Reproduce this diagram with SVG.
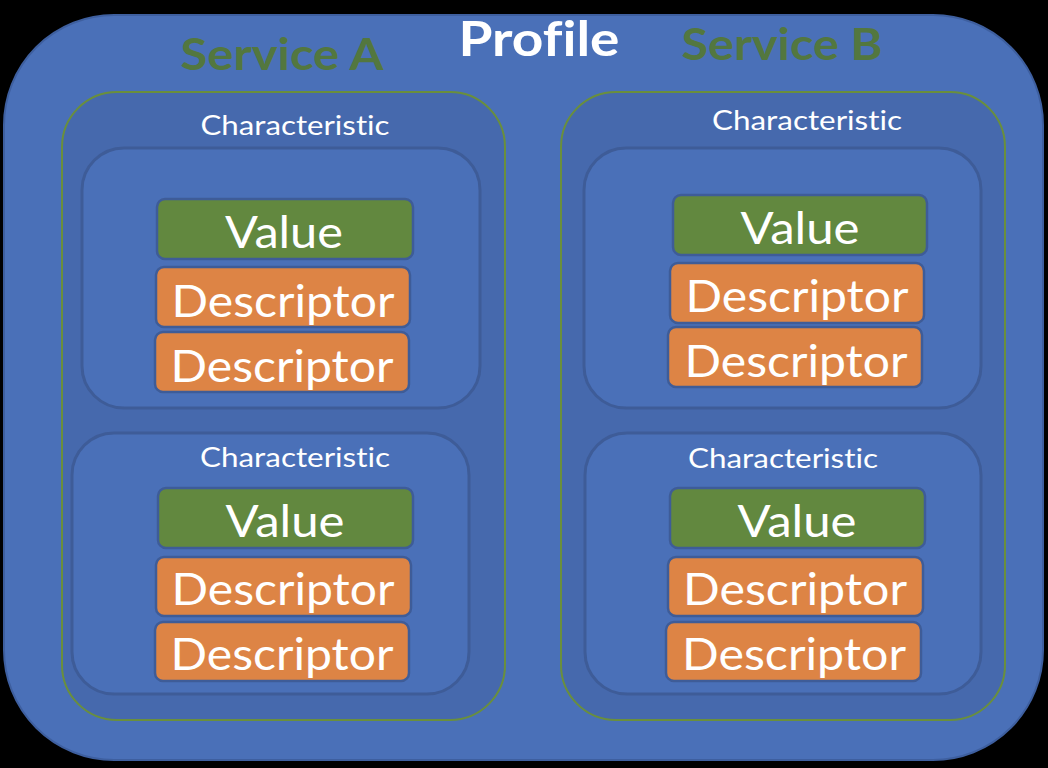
<svg xmlns="http://www.w3.org/2000/svg" width="1048" height="768" viewBox="0 0 1048 768">
<style>
.profile{fill:#4a70b8;stroke:#3e5f9f;stroke-width:2}
.service{fill:#4669ad;stroke:#6a8f3c;stroke-width:2}
.char{fill:#4a70b8;stroke:#3e5c98;stroke-width:3}
.value{fill:#62883f;stroke:#3e5c98;stroke-width:2.5}
.desc{fill:#dd8445;stroke:#3e5c98;stroke-width:2.5}
text{font-family:Lato,"Open Sans","Liberation Sans",sans-serif;fill:#ffffff;text-anchor:middle;font-variant-ligatures:none;font-feature-settings:"liga" 0,"dlig" 0}
.big{font-size:44px}
.ch{font-size:27px}
.title{font-size:48px;font-weight:bold}
.svc{font-size:44px;font-weight:bold;fill:#53773f}
</style>
<rect width="1048" height="768" fill="#000000"/>
<g id="profile">
<rect class="profile" x="4" y="15" width="1039" height="745" rx="110" ry="110"/>
<text class="title" x="539" y="56" textLength="161" lengthAdjust="spacingAndGlyphs">Profile</text>
</g>
<g id="serviceA">
<text class="svc" x="282" y="70" textLength="203" lengthAdjust="spacingAndGlyphs">Service A</text>
<rect class="service" x="62" y="92" width="443" height="628" rx="55" ry="55"/>
</g>
<g id="serviceB">
<text class="svc" x="782" y="60" textLength="201" lengthAdjust="spacingAndGlyphs">Service B</text>
<rect class="service" x="561" y="92" width="444" height="628" rx="55" ry="55"/>
</g>
<g id="charA1">
<text class="ch" x="295" y="135" textLength="189" lengthAdjust="spacingAndGlyphs">Characteristic</text>
<rect class="char" x="82" y="148" width="398" height="260" rx="42" ry="42"/>
<rect class="value" x="157" y="199" width="256" height="60" rx="8"/>
<text class="big" x="284" y="248" textLength="118" lengthAdjust="spacingAndGlyphs">Value</text>
<rect class="desc" x="156" y="267" width="254" height="60" rx="8"/>
<text class="big" x="283" y="317" textLength="223" lengthAdjust="spacingAndGlyphs">Descriptor</text>
<rect class="desc" x="155" y="332" width="254" height="60" rx="8"/>
<text class="big" x="282" y="382" textLength="223" lengthAdjust="spacingAndGlyphs">Descriptor</text>
</g>
<g id="charA2">
<rect class="char" x="72" y="433" width="397" height="261" rx="42" ry="42"/>
<text class="ch" x="295" y="467" textLength="190" lengthAdjust="spacingAndGlyphs">Characteristic</text>
<rect class="value" x="158" y="488" width="255" height="60" rx="8"/>
<text class="big" x="285" y="537" textLength="119" lengthAdjust="spacingAndGlyphs">Value</text>
<rect class="desc" x="156" y="557" width="255" height="59" rx="8"/>
<text class="big" x="283" y="605" textLength="223" lengthAdjust="spacingAndGlyphs">Descriptor</text>
<rect class="desc" x="155" y="622" width="254" height="59" rx="8"/>
<text class="big" x="282" y="670" textLength="223" lengthAdjust="spacingAndGlyphs">Descriptor</text>
</g>
<g id="charB1">
<text class="ch" x="807" y="130" textLength="190" lengthAdjust="spacingAndGlyphs">Characteristic</text>
<rect class="char" x="584" y="148" width="397" height="260" rx="42" ry="42"/>
<rect class="value" x="673" y="195" width="254" height="60" rx="8"/>
<text class="big" x="800" y="244" textLength="119" lengthAdjust="spacingAndGlyphs">Value</text>
<rect class="desc" x="670" y="263" width="254" height="60" rx="8"/>
<text class="big" x="797" y="312" textLength="223" lengthAdjust="spacingAndGlyphs">Descriptor</text>
<rect class="desc" x="668" y="327" width="254" height="60" rx="8"/>
<text class="big" x="796" y="377" textLength="223" lengthAdjust="spacingAndGlyphs">Descriptor</text>
</g>
<g id="charB2">
<rect class="char" x="585" y="433" width="396" height="261" rx="42" ry="42"/>
<text class="ch" x="783" y="468" textLength="190" lengthAdjust="spacingAndGlyphs">Characteristic</text>
<rect class="value" x="670" y="488" width="255" height="60" rx="8"/>
<text class="big" x="797" y="537" textLength="119" lengthAdjust="spacingAndGlyphs">Value</text>
<rect class="desc" x="668" y="557" width="255" height="59" rx="8"/>
<text class="big" x="795" y="605" textLength="224" lengthAdjust="spacingAndGlyphs">Descriptor</text>
<rect class="desc" x="666" y="622" width="255" height="59" rx="8"/>
<text class="big" x="794" y="670" textLength="224" lengthAdjust="spacingAndGlyphs">Descriptor</text>
</g>
<g id="connectors"></g>
</svg>
